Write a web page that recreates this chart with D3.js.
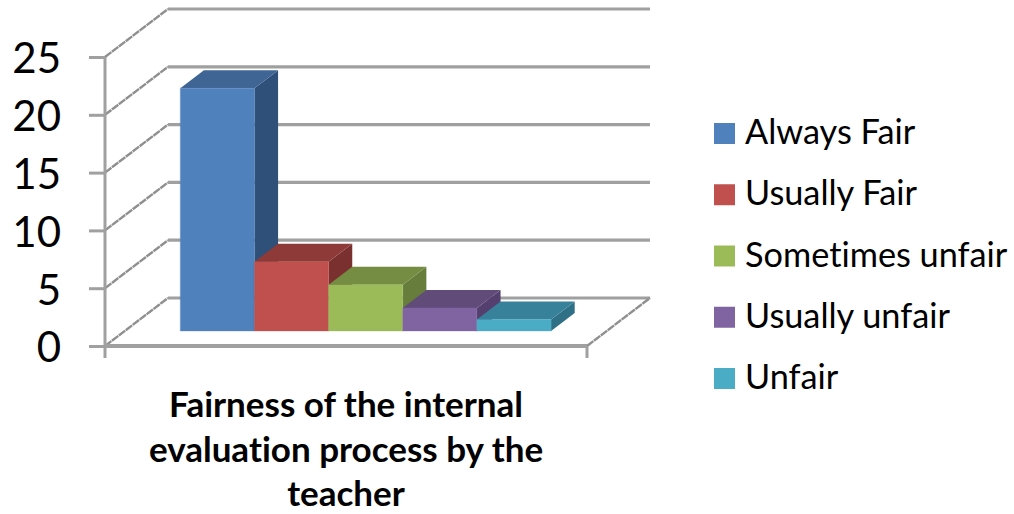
<!DOCTYPE html>
<html><head><meta charset="utf-8">
<script src="https://cdn.jsdelivr.net/npm/d3@7"></script>
<style>html,body{margin:0;padding:0;background:#fff}svg{display:block}text{font-family:Lato,"Open Sans",sans-serif;fill:#000;font-variant-ligatures:none}</style>
</head><body><svg id="c" width="1014" height="514"></svg>
<script>
const categories=["Always Fair","Usually Fair","Sometimes unfair","Usually unfair","Unfair"];
const values=[21,6,4,2,1];
const frontColors=["#4f81bd","#c0504d","#9bbb59","#8064a2","#4bacc6"];
const topColors=["#3f6595","#8e3a38","#748d42","#604b79","#38819a"];
const sideColors=["#2f5079","#7a302e","#677d3b","#553f6f","#2f7086"];
const yTicks=[0,5,10,15,20,25];
const titleLines=["Fairness of the internal","evaluation process by the","teacher"];

const svg=d3.select("#c");
const y=d3.scaleLinear().domain([0,25]).range([346,57]);
const x=d3.scaleBand().domain(categories).range([105,587]).paddingInner(0).paddingOuter(0.75);
const depth=d3.scaleLinear().domain([0,1]).range([0,63]);
const rise=d3.scaleLinear().domain([0,1]).range([0,48]);
const px=(xv,d)=>xv+depth(d), py=(v,d)=>y(v)-rise(d);
const poly=pts=>"M"+pts.map(p=>p.join(",")).join("L")+"Z";
const gridC="#a0a0a0";

const plot=svg.append("g").style("filter","blur(0.55px)");
yTicks.forEach(t=>{
  plot.append("line").attr("x1",px(105,0)).attr("y1",py(t,0)).attr("x2",px(105,1)).attr("y2",py(t,1))
    .attr("stroke","#8f8f8f").attr("stroke-width",2.4).attr("stroke-dasharray","8 0.7");
  plot.append("line").attr("x1",px(105,1)).attr("y1",py(t,1)).attr("x2",px(587,1)).attr("y2",py(t,1))
    .attr("stroke",gridC).attr("stroke-width",3.2);
});
plot.append("line").attr("x1",px(587,0)).attr("y1",py(0,0)).attr("x2",px(587,1)).attr("y2",py(0,1))
  .attr("stroke","#8f8f8f").attr("stroke-width",2.4).attr("stroke-dasharray","8 0.7");
plot.append("line").attr("x1",105).attr("x2",587).attr("y1",y(0)).attr("y2",y(0)).attr("stroke",gridC).attr("stroke-width",3.8);
plot.append("line").attr("x1",587).attr("x2",587).attr("y1",y(0)).attr("y2",y(0)+12).attr("stroke",gridC).attr("stroke-width",3);

const d0=15/48,d1=33/48;
const bars=plot.selectAll("g.bar").data(categories).join("g").attr("class","bar");
bars.each(function(c,i){
  const g=d3.select(this),l=x(c),r=l+x.bandwidth(),v=values[i];
  g.append("path").attr("fill",sideColors[i]).attr("d",poly([[px(r,d0),py(0,d0)],[px(r,d1),py(0,d1)],[px(r,d1),py(v,d1)],[px(r,d0),py(v,d0)]]));
  g.append("path").attr("fill",topColors[i]).attr("d",poly([[px(l,d0),py(v,d0)],[px(l,d1),py(v,d1)],[px(r,d1),py(v,d1)],[px(r,d0),py(v,d0)]]));
  g.append("rect").attr("fill",frontColors[i]).attr("stroke",frontColors[i]).attr("stroke-opacity",0.2).attr("stroke-width",1.5)
    .attr("x",px(l,d0)).attr("y",py(v,d0)).attr("width",x.bandwidth()).attr("height",y(0)-y(v));
});

const axis=d3.axisLeft(y).tickValues(yTicks).tickSize(16).tickPadding(28);
const ag=svg.append("g").attr("transform","translate(105,0)").call(axis);
ag.select(".domain").remove();
ag.selectAll("line").attr("stroke",gridC).attr("stroke-width",3);
ag.selectAll("text").attr("font-size",42).attr("dy","0.38em").style("font-family","Lato");
svg.append("line").attr("x1",105).attr("x2",105).attr("y1",y(25)).attr("y2",y(0)+12).attr("stroke",gridC).attr("stroke-width",3);

const ly=d3.scalePoint().domain(categories).range([144,389]);
const lg=svg.selectAll("g.leg").data(categories).join("g").attr("class","leg").attr("transform",c=>`translate(714,${ly(c)})`);
lg.append("rect").attr("x",0).attr("y",-21).attr("width",21).attr("height",21).attr("fill",(c,i)=>frontColors[i]);
lg.append("text").attr("x",31).attr("font-size",34.3).text(c=>c);

const tl=d3.scalePoint().domain(titleLines).range([417,506]);
svg.selectAll("text.t").data(titleLines).join("text").attr("class","t").attr("x",346).attr("y",d=>tl(d))
  .attr("text-anchor","middle").attr("font-size",35).attr("font-weight",700).text(d=>d);
</script></body></html>
